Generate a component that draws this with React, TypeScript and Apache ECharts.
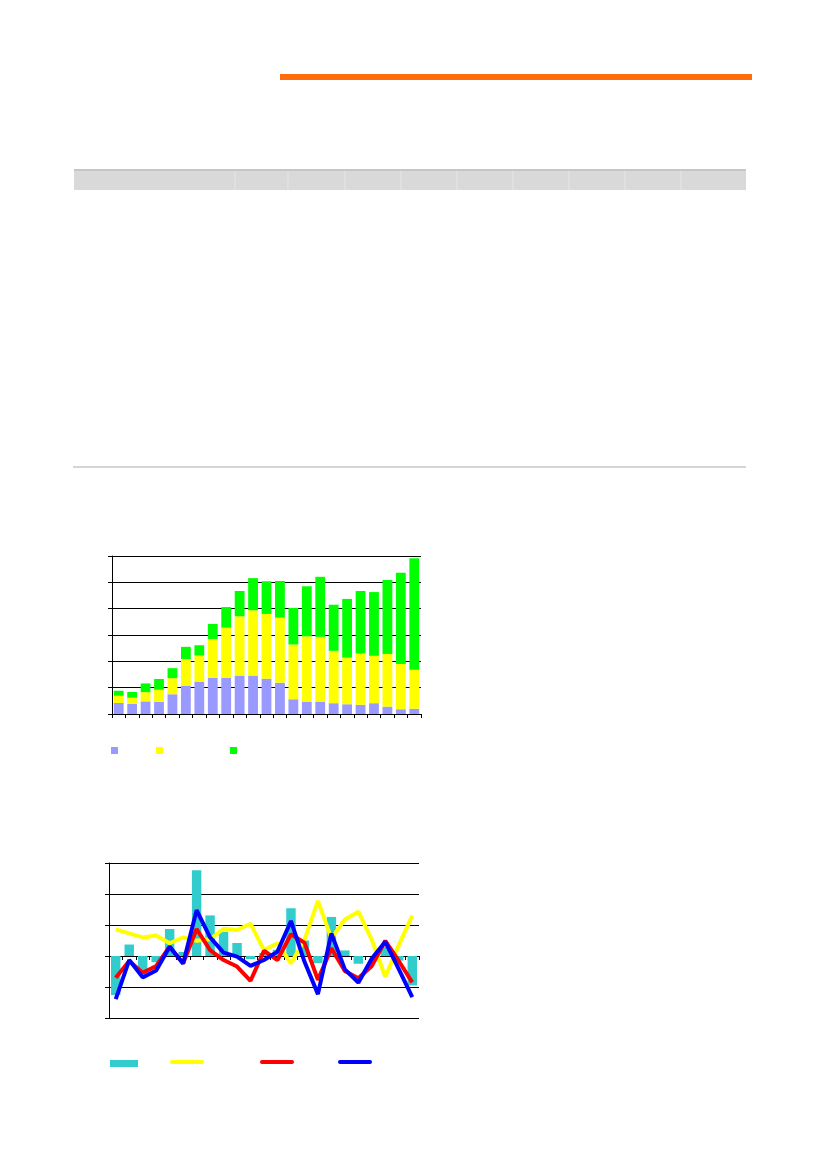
import React, { useEffect, useRef } from 'react';
import * as echarts from 'echarts';

// 23 periods, no labels visible in the reference
const periods = Array.from({ length: 23 }, (_, i) => `P${i + 1}`);

// top chart: stacked bars
const blueBars = [0.42, 0.38, 0.48, 0.46, 0.75, 1.08, 1.23, 1.38, 1.38, 1.46, 1.46, 1.34, 1.19, 0.56, 0.47, 0.47, 0.41, 0.37, 0.35, 0.41, 0.28, 0.18, 0.2];
const yellowBars = [0.27, 0.24, 0.35, 0.46, 0.61, 1.01, 0.99, 1.47, 1.9, 2.25, 2.48, 2.46, 2.47, 2.08, 2.48, 2.46, 1.99, 1.77, 1.95, 1.8, 2.0, 1.72, 1.48];
const greenBars = [0.19, 0.22, 0.33, 0.41, 0.38, 0.46, 0.39, 0.57, 0.78, 0.96, 1.22, 1.24, 1.39, 1.39, 1.9, 2.28, 1.75, 2.23, 2.37, 2.42, 2.81, 3.46, 4.23];

// bottom chart: bars and three lines
const cyanBars = [-1.26, 0.37, -0.5, -0.2, 0.87, 0.13, 2.77, 1.31, 0.78, 0.42, -0.1, 0.1, 0.2, 1.54, 0.5, -0.23, 1.26, 0.18, -0.25, 0.0, 0.3, -0.15, -0.95];
const yellowLine = [0.86, 0.73, 0.6, 0.66, 0.41, 0.6, 0.49, 0.54, 0.88, 0.84, 1.04, 0.19, 0.41, -0.24, 0.52, 1.78, 0.57, 1.18, 1.43, 0.52, -0.67, 0.35, 1.3];
const redLine = [-0.7, -0.16, -0.54, -0.32, 0.3, -0.24, 0.87, 0.19, -0.13, -0.34, -0.8, 0.17, -0.13, 0.7, 0.43, -0.77, 0.25, -0.48, -0.72, -0.32, 0.49, -0.16, -0.85];
const blueLine = [-1.39, -0.13, -0.69, -0.47, 0.3, -0.24, 1.48, 0.6, 0.11, -0.02, -0.32, -0.13, 0.14, 1.13, -0.18, -1.23, 0.73, -0.43, -0.86, -0.08, 0.46, -0.42, -1.33];

const headerDividers = [235, 288, 345, 401, 457, 513, 569, 625, 681];

const black = '#000000';

const valueAxis = (gridIndex: number, min: number, max: number) => ({
  type: 'value' as const,
  gridIndex,
  min,
  max,
  interval: 1,
  axisLabel: { show: false },
  axisLine: { show: true, lineStyle: { color: black, width: 1 } },
  axisTick: { show: true, length: 4, lineStyle: { color: black } },
  splitLine: { show: true, lineStyle: { color: black, width: 1 } },
});

const categoryAxis = (gridIndex: number) => ({
  type: 'category' as const,
  gridIndex,
  data: periods,
  boundaryGap: true,
  axisLabel: { show: false },
  axisLine: { show: true, lineStyle: { color: black, width: 1 } },
  axisTick: { show: true, length: 4, interval: 0, lineStyle: { color: black } },
  splitLine: { show: false },
});

const App: React.FC = () => {
  const chartRef = useRef<HTMLDivElement>(null);

  useEffect(() => {
    if (!chartRef.current) return;
    const chart = echarts.init(chartRef.current, null, { renderer: 'svg' });

    const option: echarts.EChartsOption = {
      animation: false,
      backgroundColor: '#ffffff',
      grid: [
        { left: 112, top: 556, width: 309, height: 158 },
        { left: 109, top: 863, width: 310, height: 155 },
      ],
      xAxis: [categoryAxis(0), categoryAxis(1)],
      yAxis: [valueAxis(0, 0, 6), valueAxis(1, -2, 3)],
      series: [
        { name: 'blue', type: 'bar', stack: 'a', xAxisIndex: 0, yAxisIndex: 0, data: blueBars, barCategoryGap: '27%', itemStyle: { color: '#9999FF' } },
        { name: 'yellow', type: 'bar', stack: 'a', xAxisIndex: 0, yAxisIndex: 0, data: yellowBars, itemStyle: { color: '#FFFF00' } },
        { name: 'green', type: 'bar', stack: 'a', xAxisIndex: 0, yAxisIndex: 0, data: greenBars, itemStyle: { color: '#00FF00' } },
        { name: 'cyan', type: 'bar', xAxisIndex: 1, yAxisIndex: 1, data: cyanBars, barCategoryGap: '30%', itemStyle: { color: '#33CCCC' } },
        { name: 'yline', type: 'line', xAxisIndex: 1, yAxisIndex: 1, data: yellowLine, showSymbol: false, lineStyle: { color: '#FFFF00', width: 4 } },
        { name: 'rline', type: 'line', xAxisIndex: 1, yAxisIndex: 1, data: redLine, showSymbol: false, lineStyle: { color: '#FF0000', width: 4 } },
        { name: 'bline', type: 'line', xAxisIndex: 1, yAxisIndex: 1, data: blueLine, showSymbol: false, lineStyle: { color: '#0000FF', width: 4 } },
      ],
      graphic: [
        // orange rule at the top
        { type: 'rect', shape: { x: 280, y: 74, width: 472, height: 6 }, style: { fill: '#FF6D0D' } },
        // grey table header
        { type: 'rect', shape: { x: 74, y: 169, width: 672, height: 21 }, style: { fill: '#D9D9D9' } },
        { type: 'rect', shape: { x: 74, y: 169, width: 672, height: 2 }, style: { fill: '#C6C6C6' } },
        ...headerDividers.map((x) => ({
          type: 'line' as const,
          shape: { x1: x, y1: 171, x2: x, y2: 190 },
          style: { stroke: '#E6E6E6', lineWidth: 1 },
        })),
        // thin separator
        { type: 'line', shape: { x1: 73, y1: 467, x2: 746, y2: 467 }, style: { stroke: '#AAAAAA', lineWidth: 1 } },
        // legend of the top chart
        { type: 'rect', shape: { x: 111, y: 747, width: 7, height: 7 }, style: { fill: '#9999FF' } },
        { type: 'rect', shape: { x: 156, y: 747, width: 7, height: 7 }, style: { fill: '#FFFF00' } },
        { type: 'rect', shape: { x: 230, y: 747, width: 7, height: 7 }, style: { fill: '#00FF00' } },
        // legend of the bottom chart
        { type: 'rect', shape: { x: 110, y: 1060, width: 28, height: 7 }, style: { fill: '#33CCCC' } },
        { type: 'line', shape: { x1: 172, y1: 1062, x2: 202, y2: 1062 }, style: { stroke: '#FFFF00', lineWidth: 4, lineCap: 'round' } },
        { type: 'line', shape: { x1: 262, y1: 1062, x2: 292, y2: 1062 }, style: { stroke: '#FF0000', lineWidth: 4, lineCap: 'round' } },
        { type: 'line', shape: { x1: 340, y1: 1062, x2: 370, y2: 1062 }, style: { stroke: '#0000FF', lineWidth: 4, lineCap: 'round' } },
      ],
    };

    chart.setOption(option);
    return () => chart.dispose();
  }, []);

  return (
    <div
      ref={chartRef}
      style={{ position: 'absolute', left: 0, top: 0, width: 826, height: 1169 }}
    />
  );
};

export default App;
